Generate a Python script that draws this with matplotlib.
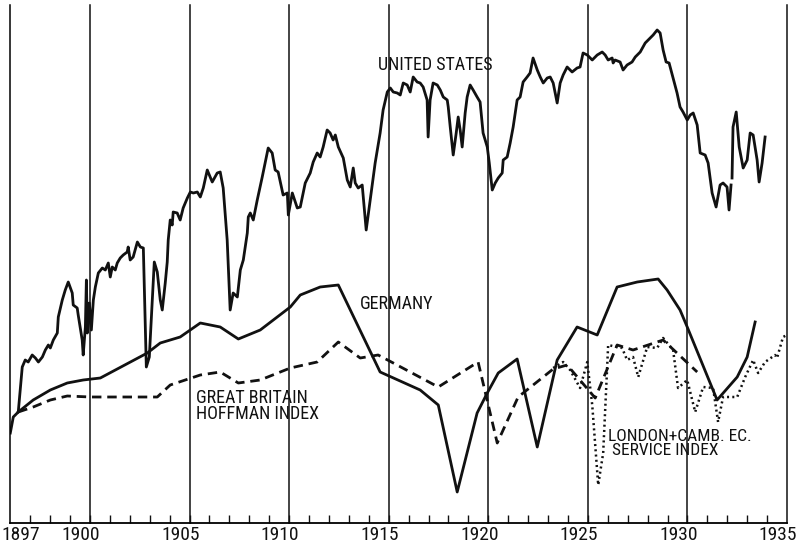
import matplotlib
matplotlib.use("Agg")
import matplotlib.pyplot as plt
import matplotlib.transforms as mtransforms

# narrow lettering if one is installed, otherwise DejaVu (condensed face if present)
plt.rcParams['font.family'] = ['Roboto Condensed', 'Liberation Sans Narrow', 'DejaVu Sans']
plt.rcParams['font.stretch'] = 'condensed'

# United States - monthly index (first stretch, up to the 1932 break)
us_year_a = [1896.00, 1896.15, 1896.40, 1896.60, 1896.75, 1896.90, 1897.10, 1897.26, 1897.41, 1897.61,
             1897.76, 1897.91, 1898.01, 1898.16, 1898.36, 1898.41, 1898.61, 1898.76, 1898.91, 1899.11,
             1899.16, 1899.36, 1899.41, 1899.61, 1899.66, 1899.77, 1899.82, 1899.87, 1899.97, 1900.07,
             1900.17, 1900.27, 1900.42, 1900.62, 1900.77, 1900.92, 1901.02, 1901.12, 1901.27, 1901.37,
             1901.52, 1901.67, 1901.87, 1901.92, 1902.02, 1902.17, 1902.38, 1902.53, 1902.68, 1902.83,
             1902.98, 1903.13, 1903.23, 1903.38, 1903.53, 1903.63, 1903.78, 1903.88, 1903.93, 1904.03,
             1904.13, 1904.18, 1904.38, 1904.53, 1904.68, 1904.89, 1905.04, 1905.19, 1905.39, 1905.54,
             1905.69, 1905.89, 1906.14, 1906.39, 1906.54, 1906.69, 1906.89, 1907.04, 1907.19, 1907.40,
             1907.55, 1907.70, 1907.90, 1907.95, 1908.05, 1908.20, 1908.40, 1908.65, 1908.95, 1909.15,
             1909.30, 1909.45, 1909.70, 1909.91, 1909.96, 1910.16, 1910.41, 1910.56, 1910.81, 1911.06,
             1911.21, 1911.41, 1911.56, 1911.71, 1911.91, 1912.06, 1912.21, 1912.32, 1912.47, 1912.72,
             1912.92, 1913.07, 1913.22, 1913.32, 1913.47, 1913.67, 1913.87, 1914.07, 1914.32, 1914.57,
             1914.72, 1914.93, 1915.08, 1915.23, 1915.43, 1915.58, 1915.73, 1915.93, 1916.08, 1916.23,
             1916.43, 1916.58, 1916.73, 1916.93, 1916.98, 1917.08, 1917.23, 1917.44, 1917.59, 1917.74,
             1917.94, 1917.99, 1918.09, 1918.24, 1918.39, 1918.49, 1918.59, 1918.69, 1918.84, 1918.94,
             1919.09, 1919.24, 1919.44, 1919.59, 1919.74, 1919.95, 1920.05, 1920.20, 1920.35, 1920.50,
             1920.70, 1920.75, 1920.95, 1921.10, 1921.25, 1921.45, 1921.60, 1921.75, 1921.95, 1922.10,
             1922.25, 1922.46, 1922.61, 1922.76, 1922.96, 1923.11, 1923.26, 1923.46, 1923.61, 1923.76,
             1923.96, 1924.21, 1924.46, 1924.61, 1924.76, 1924.97, 1925.22, 1925.47, 1925.72, 1925.87,
             1926.02, 1926.22, 1926.27, 1926.37, 1926.62, 1926.77, 1926.97, 1927.22, 1927.38, 1927.63,
             1927.88, 1928.13, 1928.28, 1928.48, 1928.63, 1928.78, 1928.93, 1929.08, 1929.28, 1929.48,
             1929.63, 1929.78, 1929.99, 1930.14, 1930.29, 1930.49, 1930.64, 1930.89, 1931.04, 1931.24,
             1931.44, 1931.64, 1931.79, 1931.99, 1932.09, 1932.19]
us_val_a = [90, 106, 111, 156, 163, 161, 168, 165, 161, 166,
            173, 178, 175, 183, 190, 206, 223, 233, 241, 230,
            218, 215, 208, 183, 168, 196, 243, 190, 220, 193,
            223, 236, 250, 255, 253, 260, 246, 256, 253, 260,
            265, 268, 271, 276, 263, 266, 281, 276, 275, 156,
            166, 223, 261, 251, 223, 213, 240, 261, 283, 303,
            298, 311, 310, 303, 315, 325, 331, 330, 331, 326,
            335, 353, 341, 350, 351, 335, 283, 213, 230, 226,
            253, 263, 290, 306, 310, 303, 323, 346, 375, 370,
            353, 351, 328, 330, 308, 330, 315, 316, 340, 350,
            361, 370, 366, 376, 393, 390, 383, 388, 376, 365,
            343, 336, 355, 340, 335, 338, 293, 323, 360, 390,
            413, 431, 435, 431, 430, 428, 440, 438, 431, 446,
            441, 440, 436, 423, 386, 423, 440, 438, 433, 426,
            423, 416, 396, 368, 390, 406, 393, 376, 410, 426,
            438, 433, 426, 421, 390, 376, 360, 333, 340, 345,
            350, 363, 366, 380, 396, 423, 426, 441, 446, 450,
            465, 453, 446, 440, 445, 446, 440, 420, 440, 448,
            456, 451, 455, 456, 470, 468, 463, 468, 471, 468,
            463, 465, 460, 463, 461, 453, 458, 461, 466, 471,
            480, 485, 488, 493, 490, 473, 461, 460, 445, 430,
            416, 411, 403, 408, 410, 398, 370, 368, 360, 330,
            316, 338, 340, 336, 313, 338]

# United States - after the break
us_year_b = [1932.24, 1932.29, 1932.45, 1932.60, 1932.80, 1933.00, 1933.15, 1933.30, 1933.50, 1933.60,
             1933.75, 1933.90]
us_val_b = [345, 396, 411, 376, 355, 363, 390, 388, 363, 341, 360, 386]

# Germany
de_year = [1896.40, 1897.15, 1898.01, 1898.86, 1899.66, 1900.52, 1902.88, 1903.53, 1904.53, 1905.54,
           1906.54, 1907.45, 1908.55, 1910.06, 1910.56, 1911.56, 1912.47, 1914.57, 1916.58, 1917.49,
           1918.44, 1919.44, 1919.95, 1920.50, 1921.45, 1922.46, 1923.46, 1924.46, 1925.47, 1926.47,
           1927.48, 1928.53, 1928.98, 1929.63, 1929.99, 1931.49, 1932.50, 1933.00, 1933.40]
de_val = [111, 123, 133, 140, 143, 145, 170, 180, 186, 200,
          196, 184, 193, 216, 228, 236, 238, 151, 133, 118,
          31, 110, 130, 150, 164, 76, 163, 196, 188, 236,
          241, 244, 233, 213, 196, 123, 146, 166, 201]

# Great Britain - Hoffman index
gb_year = [1896.40, 1897.15, 1898.01, 1898.86, 1900.02, 1901.02, 1903.38, 1904.03, 1905.54, 1906.54,
           1907.45, 1908.55, 1910.06, 1911.41, 1912.47, 1913.57, 1914.47, 1915.23, 1917.49, 1919.49,
           1920.45, 1921.50, 1923.26, 1923.96, 1925.37, 1926.47, 1927.27, 1928.78, 1930.49]
gb_val = [111, 116, 123, 127, 126, 126, 126, 138, 148, 151,
          140, 143, 155, 161, 181, 165, 168, 160, 136, 161,
          80, 126, 154, 158, 125, 178, 173, 183, 151]

# London + Cambridge Economic Service index
lc_year = [1923.26, 1923.76, 1924.11, 1924.61, 1924.97, 1925.22, 1925.52, 1925.77, 1925.97, 1926.02,
           1926.47, 1926.72, 1926.97, 1927.27, 1927.53, 1927.98, 1928.48, 1928.78, 1929.28, 1929.53,
           1929.99, 1930.39, 1930.79, 1931.29, 1931.54, 1931.79, 1932.50, 1932.90, 1933.30, 1933.55,
           1933.90, 1934.40, 1934.50, 1934.80, 1935.00]
lc_val = [155, 161, 153, 135, 161, 118, 38, 70, 156, 178,
          176, 175, 163, 166, 146, 176, 175, 185, 173, 135,
          143, 111, 136, 135, 101, 126, 126, 146, 163, 150,
          161, 168, 165, 186, 188]

label_years = [1897, 1900, 1905, 1910, 1915, 1920, 1925, 1930, 1935]
grid_years = [1900, 1905, 1910, 1915, 1920, 1925, 1930, 1935]

ink = '#111111'

fig = plt.figure(figsize=(8, 5.45), dpi=100)
ax = fig.add_axes([10.3 / 800, 22 / 545, 776.7 / 800, 518 / 545])
ax.set_xlim(1896, 1935)
ax.set_ylim(0, 518)

# vertical year rules
for yr in grid_years:
    ax.axvline(yr, color=ink, lw=1.1, clip_on=False)

ax.plot(us_year_a, us_val_a, color=ink, lw=2.0, solid_joinstyle='round')
ax.plot(us_year_b, us_val_b, color=ink, lw=2.0, solid_joinstyle='round')
ax.plot(de_year, de_val, color=ink, lw=2.0)
ax.plot(gb_year, gb_val, color=ink, lw=2.0, linestyle=(0, (3.4, 2.1)))
ax.plot(lc_year, lc_val, color=ink, lw=1.8, linestyle=(0, (0.8, 1.3)))

# series labels
ax.text(1914.47, 458, 'UNITED STATES', fontsize=13, va='center', ha='left', color=ink)
ax.text(1913.57, 219, 'GERMANY', fontsize=13, va='center', ha='left', color=ink)
ax.text(1905.30, 117, 'GREAT BRITAIN\nHOFFMAN INDEX', fontsize=13, va='center', ha='left',
        linespacing=0.8, color=ink)
ax.text(1926.02, 79.5, 'LONDON+CAMB. EC.\n SERVICE INDEX', fontsize=12.5, va='center', ha='left',
        linespacing=0.85, color=ink)

# axes frame
for side in ['top', 'right']:
    ax.spines[side].set_visible(False)
ax.spines['left'].set_linewidth(1.1)
ax.spines['bottom'].set_linewidth(1.3)
ax.set_yticks([])
ax.set_xticks(range(1897, 1935))
ax.tick_params(axis='x', direction='in', length=5.5, width=1, labelbottom=False, color=ink)

# year labels below the axis, set a little left of each rule as in the original
trans = mtransforms.blended_transform_factory(ax.transData, ax.transAxes)
for yr in label_years:
    if yr == 1897:
        ax.text(1895.55, -0.006, str(yr), transform=trans, fontsize=14, ha='left', va='top', color=ink)
    else:
        ax.text(yr - 0.45, -0.006, str(yr), transform=trans, fontsize=14, ha='center', va='top', color=ink)

fig.savefig('out.png', dpi=100, facecolor='white')
